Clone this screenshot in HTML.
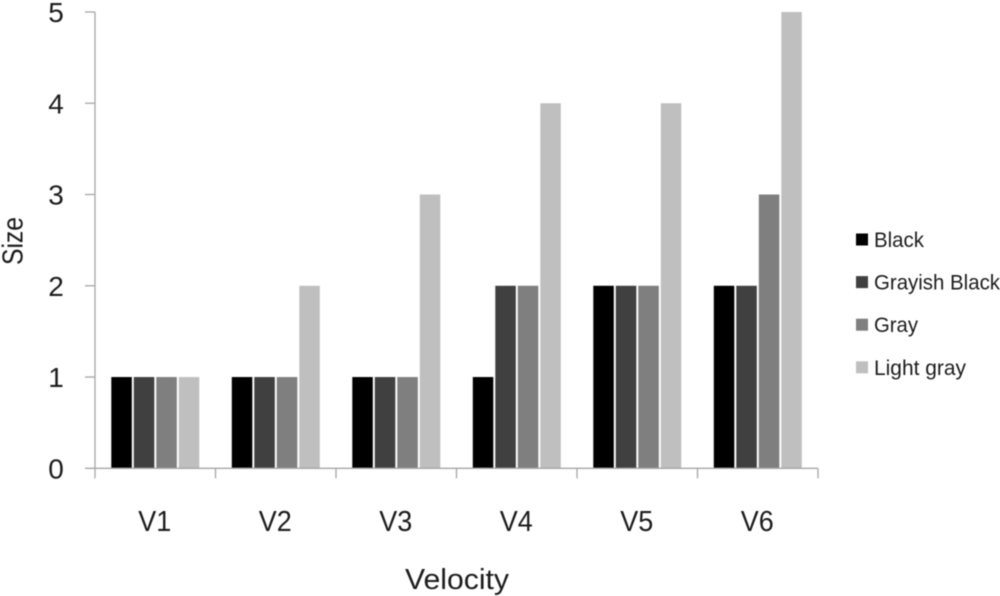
<!DOCTYPE html>
<html>
<head>
<meta charset="utf-8">
<style>
html,body{margin:0;padding:0;background:#fff;width:1000px;height:596px;overflow:hidden}
svg{display:block;filter:blur(0.4px)}
text{font-family:"Liberation Sans",sans-serif;fill:#1c1c1c}
</style>
</head>
<body>
<svg id="chart" width="1000" height="596" viewBox="0 0 1000 596" xmlns="http://www.w3.org/2000/svg">
<rect x="0" y="0" width="1000" height="596" fill="#ffffff"/>
<text transform="translate(22.5,241) rotate(-90)" text-anchor="middle" font-size="29" textLength="48" lengthAdjust="spacingAndGlyphs">Size</text>
<text x="457" y="589" text-anchor="middle" font-size="29" textLength="104" lengthAdjust="spacingAndGlyphs">Velocity</text>
<g id="legend"></g>
</svg>
<script>
var categories = ['V1', 'V2', 'V3', 'V4', 'V5', 'V6'];
var seriesNames = ['Black', 'Grayish Black', 'Gray', 'Light gray'];
var seriesBlack = [1, 1, 1, 1, 2, 2];
var seriesGrayishBlack = [1, 1, 1, 2, 2, 2];
var seriesGray = [1, 1, 1, 2, 2, 3];
var seriesLightGray = [1, 2, 3, 4, 4, 5];
var yTicks = [0, 1, 2, 3, 4, 5];

var seriesValues = [seriesBlack, seriesGrayishBlack, seriesGray, seriesLightGray];
var colors = ['#000000', '#404040', '#7f7f7f', '#bfbfbf'];
var legendWidths = [50, 126, 44, 92];
var NS = 'http://www.w3.org/2000/svg';
var svg = document.getElementById('chart');
var legend = document.getElementById('legend');
var plotLeft = 95, plotRight = 818, plotBottom = 468.3, plotTop = 12;
var catW = (plotRight - plotLeft) / categories.length;

function yScale(v) {
  return plotBottom - (v / yTicks[yTicks.length - 1]) * (plotBottom - plotTop);
}
function xBand(i) {
  return plotLeft + i * catW;
}
function make(tag, attrs, parent) {
  var el = document.createElementNS(NS, tag);
  for (var k in attrs) el.setAttribute(k, attrs[k]);
  (parent || svg).appendChild(el);
  return el;
}

seriesValues.forEach(function (vals, s) {
  vals.forEach(function (v, i) {
    var y = yScale(v);
    var bar = make('rect', {
      x: xBand(i) + 16.3 + s * 22.5,
      y: y,
      width: 20.5,
      height: plotBottom - y,
      fill: colors[s]
    });
    
    
  });
});

var yAxis = make('line', {x1: plotLeft, y1: plotTop, x2: plotLeft, y2: plotBottom + 10, stroke: '#a6a6a6', 'stroke-width': 1.3});



var xAxis = make('line', {x1: plotLeft - 10, y1: plotBottom, x2: plotRight, y2: plotBottom, stroke: '#a6a6a6', 'stroke-width': 1.3});



yTicks.forEach(function (t) {
  var y = yScale(t);
  if (t > 0) {
    var tick = make('line', {x1: plotLeft - 10, y1: y, x2: plotLeft, y2: y, stroke: '#a6a6a6', 'stroke-width': 1.3});
    
    
  }
  var label = make('text', {x: 56, y: y + 10, 'text-anchor': 'middle', 'font-size': 28});
  label.textContent = t;
  
  
});

for (var i = 1; i <= categories.length; i++) {
  var tx = xBand(i);
  var xTick = make('line', {x1: tx, y1: plotBottom, x2: tx, y2: plotBottom + 10, stroke: '#a6a6a6', 'stroke-width': 1.3});
  
  
}

categories.forEach(function (c, i) {
  var label = make('text', {x: xBand(i) + catW / 2 - 0.5, y: 531, 'text-anchor': 'middle', 'font-size': 29, textLength: 33, lengthAdjust: 'spacingAndGlyphs'});
  label.textContent = c;
  
  
});

seriesNames.forEach(function (n, s) {
  var ly = 240 + s * 42.6;
  var swatch = make('rect', {x: 856, y: ly - 6.5, width: 12, height: 12, fill: colors[s]}, legend);
  
  
  var label = make('text', {x: 874, y: ly + 7, 'font-size': 21, textLength: legendWidths[s], lengthAdjust: 'spacingAndGlyphs'}, legend);
  label.textContent = n;
  
  
});
</script>
</body>
</html>
